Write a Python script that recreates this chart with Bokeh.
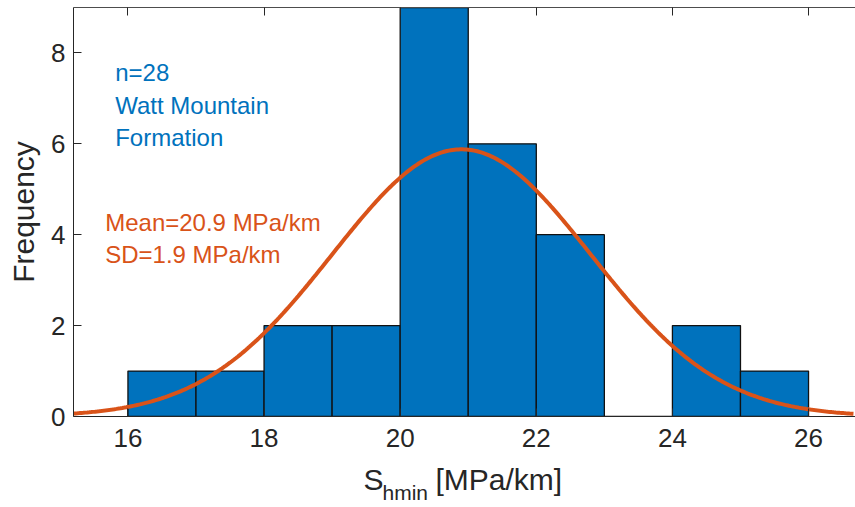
import numpy as np
from bokeh.plotting import figure
from bokeh.layouts import column
from bokeh.models import Label, LinearAxis, Range1d, FixedTicker, CustomJSTickFormatter
from bokeh.core.properties import value
from bokeh.embed import file_html
from bokeh.resources import INLINE

# Histogram of minimum horizontal stress gradient, Watt Mountain Formation
bin_edges = [16, 17, 18, 19, 20, 21, 22, 23, 24, 25, 26]
counts = [1, 1, 2, 2, 9, 6, 4, 0, 2, 1]
n_samples = 28
mean_shmin = 20.9   # MPa/km
sd_shmin = 1.9      # MPa/km

x_ticks = [16, 18, 20, 22, 24, 26]
y_ticks = [0, 2, 4, 6, 8]

BLUE = "#0072BD"
ORANGE = "#D95319"
AXIS = "#262626"
FONT = "Liberation Sans"

X_START, X_END = 15.2, 26.69
Y_START, Y_END = 0, 9

W = 855
MAIN_H = 466
TITLE_H = 41
LEFT_PAD = 73

p = figure(width=W, height=MAIN_H, output_backend="svg", toolbar_location=None, title=None,
           x_range=Range1d(X_START, X_END), y_range=Range1d(Y_START, Y_END),
           min_border_left=LEFT_PAD, min_border_right=0, min_border_top=7, min_border_bottom=50,
           background_fill_color="white", border_fill_color="white")
p.outline_line_color = None
p.grid.grid_line_color = None

left = bin_edges[:-1]
right = bin_edges[1:]
p.quad(left=left, right=right, bottom=0, top=counts,
       fill_color=BLUE, line_color="#111111", line_width=1.3)

# Normal fit scaled to the histogram (count per unit bin width)
bin_width = bin_edges[1] - bin_edges[0]
xs = np.linspace(X_START, 26.66, 400)
ys = n_samples * bin_width / (sd_shmin * np.sqrt(2 * np.pi)) * np.exp(-0.5 * ((xs - mean_shmin) / sd_shmin) ** 2)
p.line(xs, ys, line_color=ORANGE, line_width=4)

# Axes
for ax in (p.xaxis[0], p.yaxis[0]):
    ax.major_tick_in = 8
    ax.major_tick_out = 0
    ax.minor_tick_in = 0
    ax.minor_tick_out = 0
    ax.axis_line_color = AXIS
    ax.major_tick_line_color = AXIS
    ax.major_label_text_color = AXIS
    ax.major_label_text_font = FONT
    ax.major_label_text_font_size = "26px"
    ax.axis_label_text_font = FONT
    ax.axis_label_text_color = AXIS
    ax.axis_label_text_font_style = "normal"
    ax.axis_label_text_font_size = "30px"

p.xaxis[0].ticker = FixedTicker(ticks=x_ticks)
p.yaxis[0].ticker = FixedTicker(ticks=y_ticks)
p.xaxis[0].major_label_standoff = 12
p.yaxis[0].major_label_standoff = 8
p.yaxis[0].axis_label = "Frequency"
p.yaxis[0].axis_label_standoff = 8

# Box-style top edge with inward ticks
top_axis = LinearAxis(ticker=FixedTicker(ticks=x_ticks), major_tick_in=8, major_tick_out=0,
                      minor_tick_in=0, minor_tick_out=0, axis_line_color="#4d4d4d",
                      major_tick_line_color=AXIS, major_label_standoff=0,
                      formatter=CustomJSTickFormatter(code="return ''"))
p.add_layout(top_axis, "above")

# Annotations
info_lines = [("n=28", 115, 72), ("Watt Mountain", 115, 104.5), ("Formation", 115, 137)]
for txt, px, py in info_lines:
    p.add_layout(Label(x=X_START, y=0, x_offset=px - 73.3, y_offset=416 - py, text=txt,
                       text_font=FONT, text_font_size="24px", text_color=BLUE,
                       text_baseline="alphabetic", text_align="left"))

stat_lines = [(f"Mean={mean_shmin} MPa/km", 105, 222), (f"SD={sd_shmin} MPa/km", 105, 254)]
for txt, px, py in stat_lines:
    p.add_layout(Label(x=X_START, y=0, x_offset=px - 73.3, y_offset=416 - py, text=txt,
                       text_font=FONT, text_font_size="24px", text_color=ORANGE,
                       text_baseline="alphabetic", text_align="left"))

# x-axis title with subscript, set in a strip under the plot
title_text = ["S", "hmin", "[MPa/km]"]
title_x = [363, 382, 435]
title_y = [13, 26, 13]
title_size = ["30px", "21px", "30px"]

t = figure(width=W, height=TITLE_H, output_backend="svg", toolbar_location=None, title=None,
           x_range=Range1d(LEFT_PAD, W), y_range=Range1d(TITLE_H, 0),
           x_axis_type=None, y_axis_type=None,
           min_border_left=LEFT_PAD, min_border_right=0, min_border_top=0, min_border_bottom=0,
           background_fill_color="white", border_fill_color="white")
t.outline_line_color = None
t.grid.grid_line_color = None
for txt, x, y, fs in zip(title_text, title_x, title_y, title_size):
    t.text(x=[x], y=[y], text=[txt], text_font=value(FONT), text_font_size=fs,
           text_color=AXIS, text_baseline="alphabetic", text_align="left")

layout = column(p, t, spacing=0)
open("out.html", "w").write(file_html(layout, INLINE))
